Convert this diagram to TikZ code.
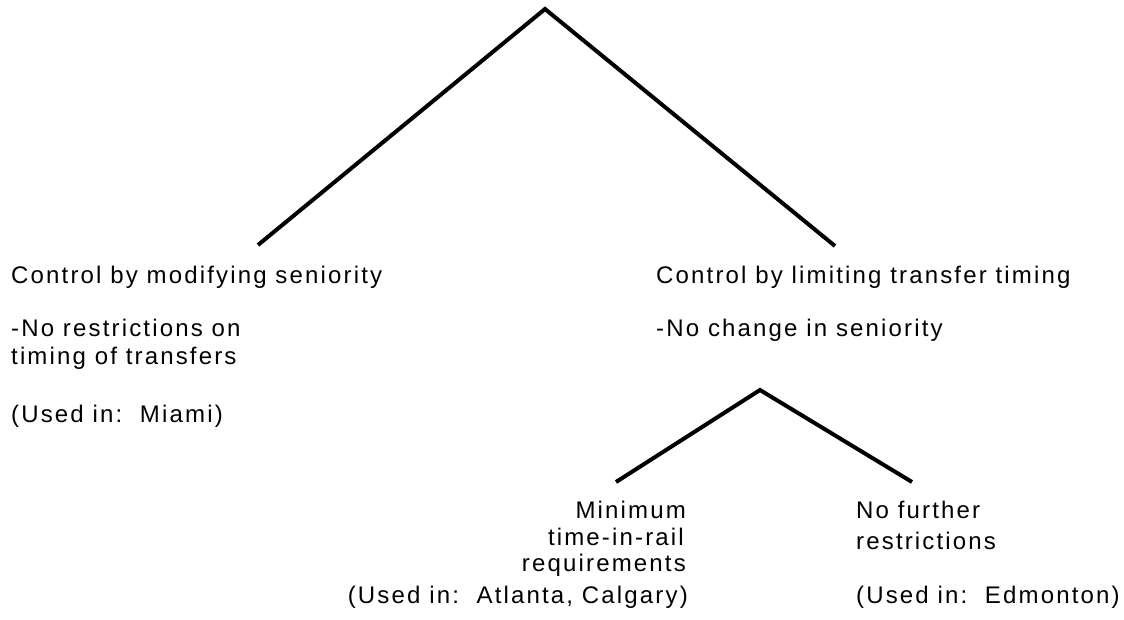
\documentclass[tikz,border=0pt]{standalone}
\usepackage{fontspec}
\setmainfont{Liberation Sans}[LetterSpace=9]
\begin{document}
\begin{tikzpicture}[x=1pt,y=-1pt,
  txt/.style={inner sep=0pt, font=\fontsize{24}{25}\selectfont},
  branch/.style={line width=4pt, line join=miter}]
\useasboundingbox (0,0) rectangle (1124,619);
\fill[white] (0,0) rectangle (1124,619);
% tree coordinates
\coordinate (root) at (545,9);
\coordinate (lend) at (258,245);
\coordinate (rend) at (835,246);
\coordinate (sub) at (760,390);
\coordinate (slend) at (616,482);
\coordinate (srend) at (912,482);
\draw[branch] (lend) -- (root) -- (rend);
\draw[branch] (slend) -- (sub) -- (srend);
% left branch text
\node[txt, anchor=base west] (ltitle) at (11,283) {Control by modifying seniority};
\node[txt, anchor=base west] (lnote1) at (11,336) {-No restrictions on};
\node[txt, anchor=base west] (lnote2) at (11,364) {timing of transfers};
\node[txt, anchor=base west] (lused) at (11,422) {(Used in:\ \ Miami)};
% right branch text
\node[txt, anchor=base west] (rtitle) at (656,283) {Control by limiting transfer timing};
\node[txt, anchor=base west] (rnote) at (656,336) {-No change in seniority};
% sub-branches
\node[txt, anchor=base east] (min1) at (686,518) {Minimum};
\node[txt, anchor=base east] (min2) at (684,545) {time-in-rail};
\node[txt, anchor=base east] (min3) at (686,571) {requirements};
\node[txt, anchor=base east] (minused) at (688,603) {(Used in:\ \ Atlanta, Calgary)};
\node[txt, anchor=base west] (nf1) at (856,518) {No further};
\node[txt, anchor=base west] (nf2) at (856,549) {restrictions};
\node[txt, anchor=base west] (nfused) at (856,603) {(Used in:\ \ Edmonton)};
\end{tikzpicture}
\end{document}
